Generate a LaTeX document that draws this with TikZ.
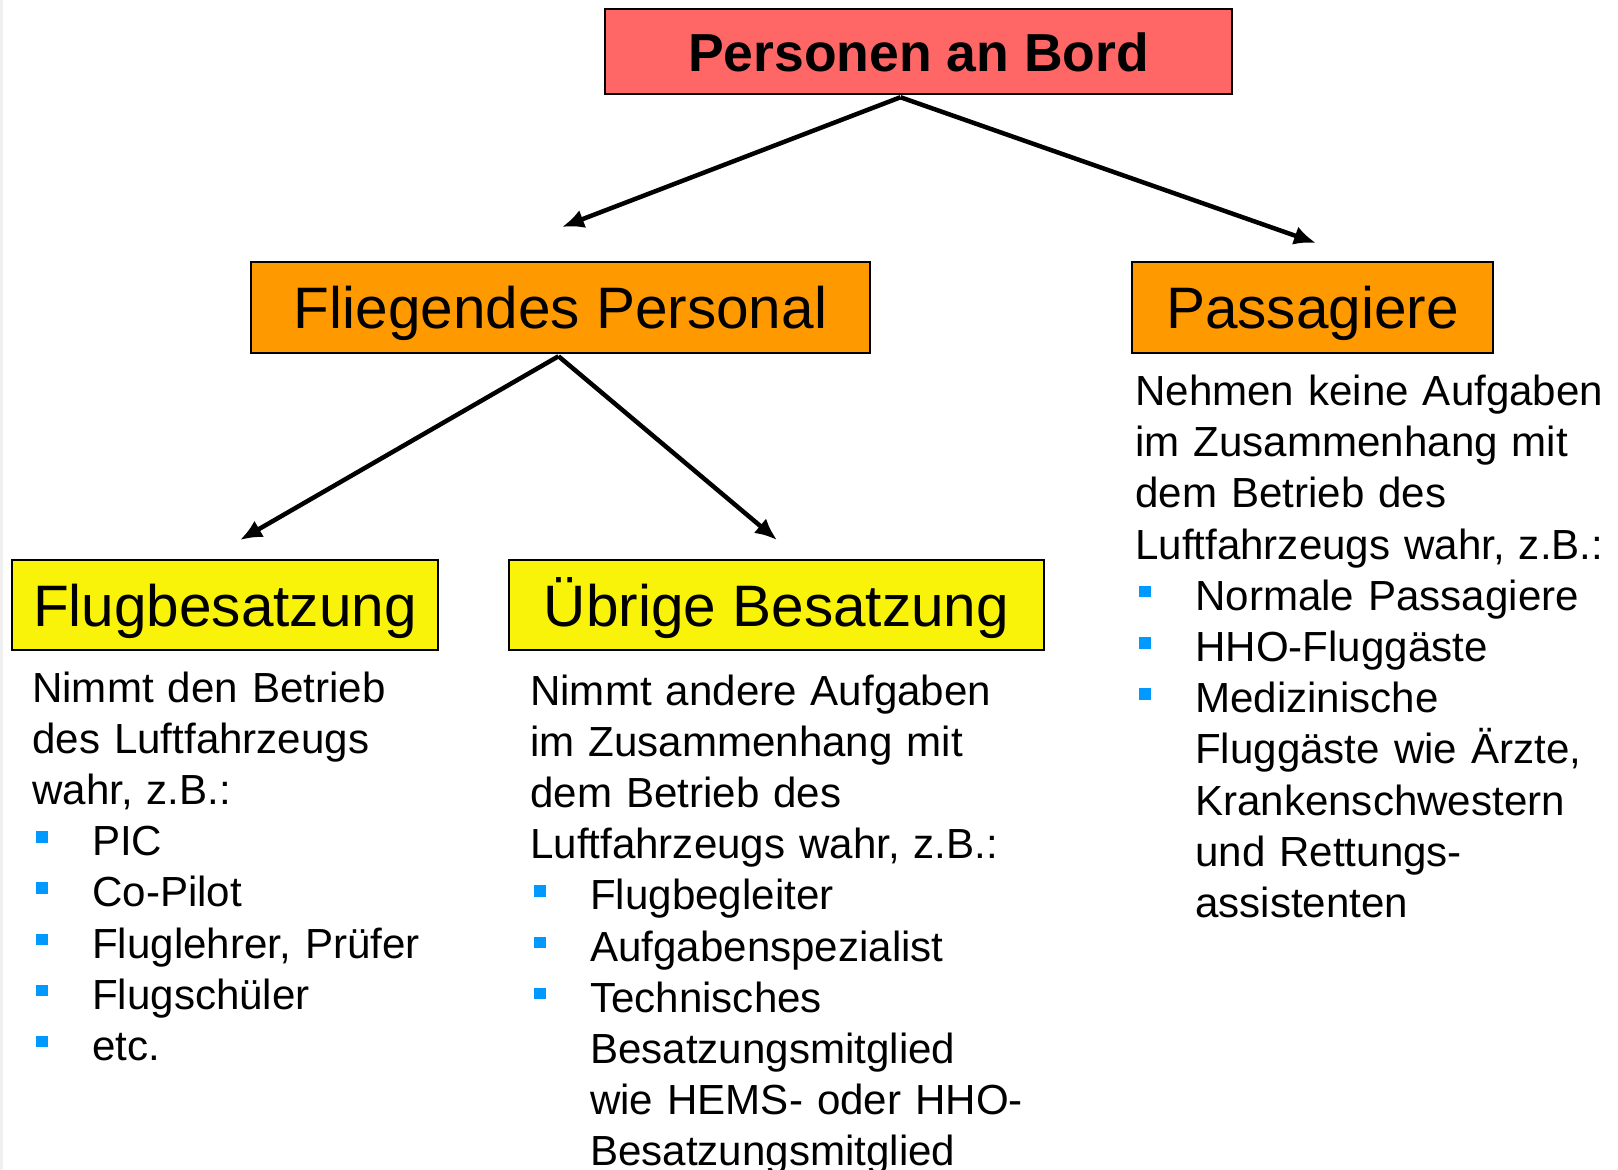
\documentclass[tikz,border=0pt]{standalone}
\usepackage{fontspec}
\setmainfont{Liberation Sans}
\usetikzlibrary{arrows.meta}
\definecolor{pab-red}{RGB}{255,102,102}
\definecolor{pab-orange}{RGB}{255,153,0}
\definecolor{pab-yellow}{RGB}{248,243,8}
\definecolor{pab-blue}{RGB}{0,153,255}
\newcommand{\pkt}{\makebox[60pt][l]{\hspace*{4pt}\textcolor{pab-blue}{\rule[13pt]{11.5pt}{11.5pt}}}}
\newcommand{\einr}{\hspace*{60pt}}
\begin{document}
\begin{tikzpicture}[x=1pt,y=-1pt,
  kasten/.style={draw=black, line width=2.5pt, inner sep=0pt, text height=42pt, text depth=0pt, font=\fontsize{58.5}{70}\selectfont},
  pfeil/.style={line width=4.5pt, -{Latex[length=22pt,width=19pt]}},
  liste/.style={anchor=base west, align=left, inner sep=0pt, font=\fontsize{42.1}{51.2}\selectfont}]
\useasboundingbox (0,0) rectangle (1618,1170);
\fill[black!6] (0,0) rectangle (3,1170);
%Kaesten:
\node[kasten, fill=pab-red, minimum width=627pt, minimum height=85pt, font=\fontsize{53.5}{64}\selectfont\bfseries, text height=39pt] (bord) at (918.5,51.5) {Personen an Bord};
\node[kasten, fill=pab-orange, minimum width=619pt, minimum height=91pt] (personal) at (560.5,307.5) {Fliegendes Personal};
\node[kasten, fill=pab-orange, minimum width=361pt, minimum height=91pt] (passagiere) at (1312.5,307.5) {Passagiere};
\node[kasten, fill=pab-yellow, minimum width=426pt, minimum height=90pt] (flug) at (225,605) {Flugbesatzung};
\node[kasten, fill=pab-yellow, minimum width=535pt, minimum height=90pt] (uebrige) at (776.5,605) {Übrige Besatzung};
%Pfeile:
\coordinate (gabelbord) at ([xshift=-18pt,yshift=-2pt]bord.south);
\coordinate (gabelpersonal) at ([xshift=-2pt,yshift=-2pt]personal.south);
\coordinate (zielpersonal) at (562,227);
\coordinate (zielpassagiere) at (1316,243);
\coordinate (zielflug) at (240,540);
\coordinate (zieluebrige) at (777,540);
\draw[pfeil] (gabelbord) -- (zielpersonal);
\draw[pfeil] (gabelbord) -- (zielpassagiere);
\draw[pfeil] (gabelpersonal) -- (zielflug);
\draw[pfeil] (gabelpersonal) -- (zieluebrige);
%Texte:
\node[liste, text width=430pt] (flugtext) at (32,702) {Nimmt den Betrieb\\ des Luftfahrzeugs\\ wahr, z.B.:\\ \pkt PIC\\ \pkt Co-Pilot\\ \pkt Fluglehrer, Prüfer\\ \pkt Flugschüler\\ \pkt etc.};
\node[liste, text width=540pt] (uebrigetext) at (530,705) {Nimmt andere Aufgaben\\ im Zusammenhang mit\\ dem Betrieb des\\ Luftfahrzeugs wahr, z.B.:\\ \pkt Flugbegleiter\\ \pkt Aufgabenspezialist\\ \pkt Technisches\\ \einr Besatzungsmitglied\\ \einr wie HEMS- oder HHO-\\ \einr Besatzungsmitglied};
\node[liste, text width=480pt] (passagieretext) at (1135,405.5) {Nehmen keine Aufgaben\\ im Zusammenhang mit\\ dem Betrieb des\\ Luftfahrzeugs wahr, z.B.:\\ \pkt Normale Passagiere\\ \pkt HHO-Fluggäste\\ \pkt Medizinische\\ \einr Fluggäste wie Ärzte,\\ \einr Krankenschwestern\\ \einr und Rettungs-\\ \einr assistenten};
\end{tikzpicture}
\end{document}
